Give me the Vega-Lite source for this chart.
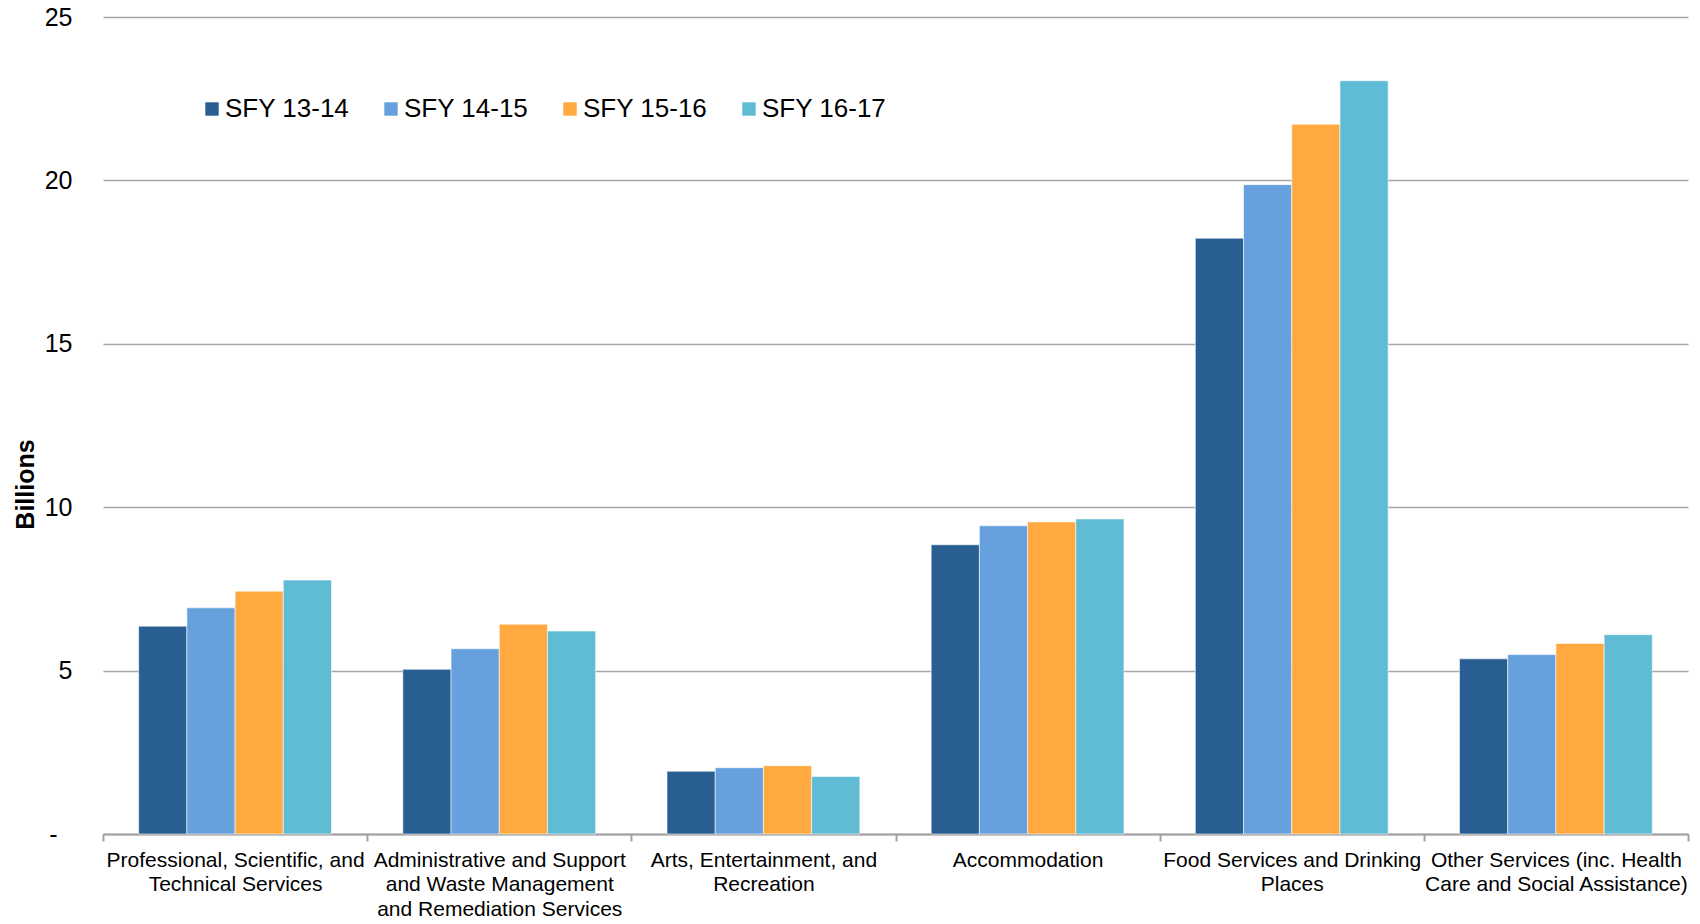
{
  "$schema": "https://vega.github.io/schema/vega-lite/v6.json",
  "width": 1585,
  "height": 817,
  "autosize": {"type": "none"},
  "padding": {"left": 103, "top": 17, "right": 12, "bottom": 90},
  "background": "white",
  "config": {"view": {"stroke": null}, "font": "Liberation Sans"},
  "data": {
    "values": [
      {"category": "Professional, Scientific, and|Technical Services", "year": "SFY 13-14", "value": 6.36},
      {"category": "Professional, Scientific, and|Technical Services", "year": "SFY 14-15", "value": 6.92},
      {"category": "Professional, Scientific, and|Technical Services", "year": "SFY 15-16", "value": 7.43},
      {"category": "Professional, Scientific, and|Technical Services", "year": "SFY 16-17", "value": 7.77},
      {"category": "Administrative and Support|and Waste Management|and Remediation Services", "year": "SFY 13-14", "value": 5.04},
      {"category": "Administrative and Support|and Waste Management|and Remediation Services", "year": "SFY 14-15", "value": 5.67},
      {"category": "Administrative and Support|and Waste Management|and Remediation Services", "year": "SFY 15-16", "value": 6.42},
      {"category": "Administrative and Support|and Waste Management|and Remediation Services", "year": "SFY 16-17", "value": 6.21},
      {"category": "Arts, Entertainment, and|Recreation", "year": "SFY 13-14", "value": 1.92},
      {"category": "Arts, Entertainment, and|Recreation", "year": "SFY 14-15", "value": 2.03},
      {"category": "Arts, Entertainment, and|Recreation", "year": "SFY 15-16", "value": 2.09},
      {"category": "Arts, Entertainment, and|Recreation", "year": "SFY 16-17", "value": 1.76},
      {"category": "Accommodation", "year": "SFY 13-14", "value": 8.85},
      {"category": "Accommodation", "year": "SFY 14-15", "value": 9.43},
      {"category": "Accommodation", "year": "SFY 15-16", "value": 9.55},
      {"category": "Accommodation", "year": "SFY 16-17", "value": 9.64},
      {"category": "Food Services and Drinking|Places", "year": "SFY 13-14", "value": 18.23},
      {"category": "Food Services and Drinking|Places", "year": "SFY 14-15", "value": 19.87},
      {"category": "Food Services and Drinking|Places", "year": "SFY 15-16", "value": 21.72},
      {"category": "Food Services and Drinking|Places", "year": "SFY 16-17", "value": 23.05},
      {"category": "Other Services (inc. Health|Care and Social Assistance)", "year": "SFY 13-14", "value": 5.36},
      {"category": "Other Services (inc. Health|Care and Social Assistance)", "year": "SFY 14-15", "value": 5.49},
      {"category": "Other Services (inc. Health|Care and Social Assistance)", "year": "SFY 15-16", "value": 5.83},
      {"category": "Other Services (inc. Health|Care and Social Assistance)", "year": "SFY 16-17", "value": 6.10}
    ]
  },
  "mark": {"type": "bar", "stroke": "white", "strokeWidth": 0.8, "strokeOpacity": 0.7},
  "encoding": {
    "x": {
      "field": "category",
      "type": "nominal",
      "sort": null,
      "scale": {"paddingInner": 0, "paddingOuter": 0},
      "axis": {
        "title": null,
        "labelAngle": 0,
        "labelFontSize": 21,
        "labelColor": "black",
        "labelExpr": "split(datum.label, '|')",
        "labelLineHeight": 24.5,
        "labelPadding": 8,
        "labelLimit": 400,
        "labelOverlap": false,
        "labelBaseline": "top",
        "tickBand": "extent",
        "tickSize": 7,
        "tickColor": "#A0A0A0",
        "tickWidth": 2,
        "domainColor": "#A0A0A0",
        "domainWidth": 2
      }
    },
    "xOffset": {
      "field": "year",
      "type": "nominal",
      "sort": null,
      "scale": {"paddingInner": 0, "paddingOuter": 0.74}
    },
    "y": {
      "field": "value",
      "type": "quantitative",
      "scale": {"domain": [0, 25], "nice": false},
      "axis": {
        "title": "Billions",
        "titleFontSize": 25,
        "titleFontWeight": "bold",
        "titleColor": "black",
        "titleAngle": -90,
        "titleX": -78,
        "titleY": 467,
        "titleAlign": "center",
        "titleBaseline": "middle",
        "values": [0, 5, 10, 15, 20, 25],
        "labelExpr": "datum.value == 0 ? '-' : datum.label",
        "labelFontSize": 25,
        "labelColor": "black",
        "labelPadding": {"condition": {"test": "datum.value == 0", "value": 46}, "value": 31},
        "ticks": false,
        "domain": false,
        "gridColor": "#A6A6A6",
        "gridWidth": 1.5
      }
    },
    "color": {
      "field": "year",
      "type": "nominal",
      "sort": null,
      "scale": {
        "domain": ["SFY 13-14", "SFY 14-15", "SFY 15-16", "SFY 16-17"],
        "range": ["#285E91", "#66A1DE", "#FFA940", "#60BBD4"]
      },
      "legend": {
        "orient": "none",
        "direction": "horizontal",
        "legendX": 96,
        "legendY": 79,
        "title": null,
        "symbolType": "square",
        "symbolSize": 180,
        "symbolStrokeWidth": 0,
        "labelFontSize": 26,
        "labelColor": "black",
        "labelOffset": 0,
        "columnPadding": 28
      }
    }
  }
}
